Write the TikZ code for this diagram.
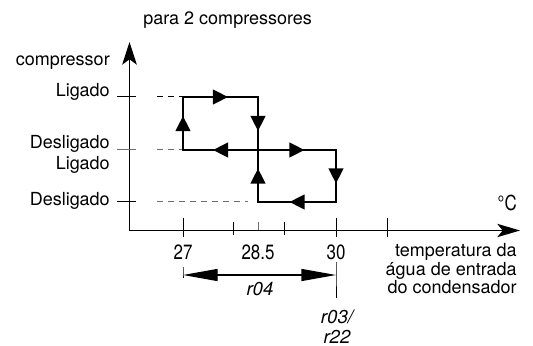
\documentclass[tikz,border=0pt]{standalone}
\usepackage{fontspec}
\setmainfont{TeX Gyre Heros}
\newfontfamily\numfont[FakeStretch=0.82]{TeX Gyre Heros}
\usetikzlibrary{arrows.meta,decorations.markings}
\definecolor{GuideGray}{HTML}{6E6E6E}

\begin{document}
\begin{tikzpicture}[x=0.75pt,y=-0.75pt,
    every node/.style={font=\fontsize{13.5}{14}\selectfont, inner sep=0pt},
    axis/.style={line width=1pt,
      {Stealth[length=17pt,width=11pt,inset=4pt]}-{Stealth[length=17pt,width=10pt,inset=4pt]}},
    loopline/.style={line width=1.5pt,line cap=rect},
    midarr/.style={postaction={decorate},decoration={markings,
      mark=at position 0.5 with {\arrow[xshift=5.6pt]{Triangle[length=11.25pt,width=11pt]}}}},
    tck/.style={line width=0.75pt},
    guide/.style={line width=0.75pt,dash pattern=on 4.5pt off 3.75pt},
    dimarr/.style={line width=1pt,
      {Triangle[length=26pt,width=9pt]}-{Triangle[length=26pt,width=9pt]}},
    num/.style={font=\numfont\fontsize{15.5}{17}\selectfont},
    seg/.style={font=\fontsize{14}{15}\selectfont\itshape}]
  \useasboundingbox (0,0) rectangle (533,346);

  % axes
  \coordinate (o) at (129.5,230.5);
  \coordinate (ytop) at (129.5,42);
  \coordinate (xend) at (520,230.5);
  \draw[axis] (ytop) -- (o) -- (xend);

  % level ticks and guides
  \foreach \y in {97,202} \draw[tck] (117,\y) -- (136,\y);
  \draw[tck,GuideGray] (117,150) -- (136,150);
  \foreach \x in {183,336,387} \draw[tck] (\x,218) -- (\x,237);
  \foreach \x in {233,284} \draw[tck] (\x,222) -- (\x,235);
  \draw[tck,GuideGray] (258,222) -- (258,230);

  % hysteresis loops
  \coordinate (p1) at (183,150);
  \coordinate (p2) at (183,97);
  \coordinate (p3) at (258,97);
  \coordinate (p4) at (258,150);
  \coordinate (q1) at (258,202);
  \coordinate (q3) at (336,150);
  \coordinate (q4) at (336,202);
  \draw[guide] (157,97) -- (p2);
  \draw[guide,GuideGray] (157,150) -- (p1);
  \draw[guide,GuideGray] (157,202) -- (248,202);
  \draw[loopline,midarr] (p1) -- (p2);
  \draw[loopline,midarr] (p2) -- (p3);
  \draw[loopline,midarr] (p3) -- (p4);
  \draw[loopline,midarr] (p4) -- (p1);
  \draw[loopline,midarr] (q1) -- (p4);
  \draw[loopline,midarr] (p4) -- (q3);
  \draw[loopline,midarr] (q3) -- (q4);
  \draw[loopline,midarr] (q4) -- (q1);

  % labels
  \node[anchor=base west] (ttl) at (143,25) {para 2 compressores};
  \node[anchor=base east] (comp) at (110,66) {compressor};
  \node[anchor=base east] (on1) at (110,97) {Ligado};
  \node[anchor=base east] (off1) at (110,149) {Desligado};
  \node[anchor=base east] (on2) at (110,170) {Ligado};
  \node[anchor=base east] (off2) at (110,206) {Desligado};
  \node[num,anchor=base east] (unit) at (517,211) {°C};
  \node[anchor=north east,align=right] (xlab) at (517,243)
    {temperatura da\\água de entrada\\do condensador};
  \node[num,anchor=base] (t27) at (183,260) {27};
  \node[num,anchor=base] (t285) at (258,260) {28.5};
  \node[num,anchor=base] (t30) at (336,260) {30};

  % r04 band
  \coordinate (d1) at (183,275);
  \coordinate (d2) at (336,275);
  \draw[tck] (183,267) -- (d1) -- (183,278);
  \draw[tck] (336,262) -- (d2) -- (336,298);
  \draw[dimarr] (d1) -- (d2);
  \node[seg] (r04) at (260,289) {r04};
  \node[seg,align=center] (r03) at (337,327) {r03/\\r22};
\end{tikzpicture}
\end{document}
